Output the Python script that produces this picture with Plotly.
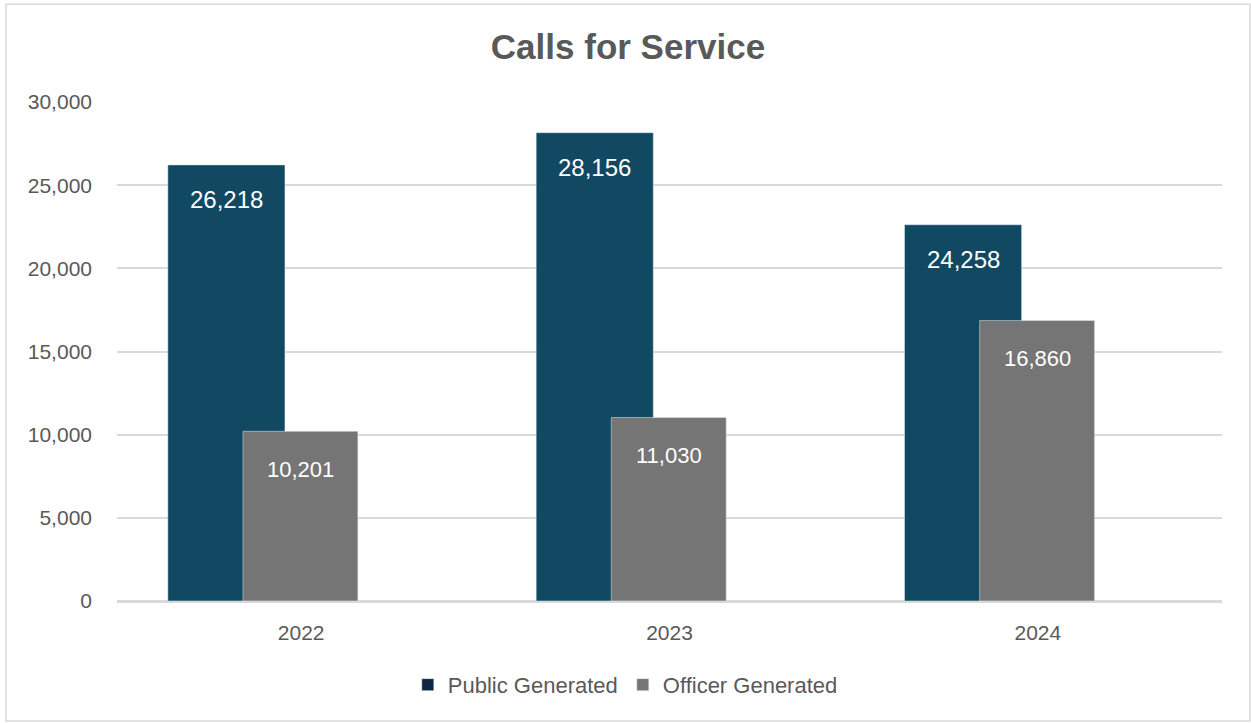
import plotly.graph_objects as go

years = ["2022", "2023", "2024"]
public_height = [26218, 28156, 22620]
officer_height = [10201, 11030, 16860]
public_labels = ["26,218", "28,156", "24,258"]
officer_labels = ["10,201", "11,030", "16,860"]

txt = "#595959"
font = "Liberation Sans"

fig = go.Figure()
fig.add_trace(go.Bar(x=years, y=public_height, name="Public Generated", marker_color="#114862",
                     offset=-0.362, width=0.318, showlegend=False))
fig.add_trace(go.Bar(x=years, y=officer_height, name="Officer Generated", marker_color="#757575",
                     offset=-0.158, width=0.312, showlegend=False))

# legend swatches (Excel shows a darker swatch for the first series)
fig.add_trace(go.Bar(x=[years[0]], y=[None], name="Public Generated", marker_color="#0e2841"))
fig.add_trace(go.Bar(x=[years[0]], y=[None], name="Officer Generated", marker_color="#757575"))

# data labels inside the top of each bar
for i in range(len(years)):
    fig.add_annotation(x=i - 0.362 + 0.318 / 2, y=public_height[i], text=public_labels[i], showarrow=False,
                       yshift=-35, font=dict(family=font, size=24, color="white"))
    fig.add_annotation(x=i - 0.158 + 0.312 / 2, y=officer_height[i], text=officer_labels[i], showarrow=False,
                       yshift=-38, font=dict(family=font, size=22, color="white"))

fig.add_shape(type="rect", xref="paper", yref="paper", x0=-0.1005, x1=1.0253, y0=-0.2405, y1=1.196,
              line=dict(color="#d9d9d9", width=1.5), layer="below")

fig.update_layout(
    width=1251, height=723,
    margin=dict(l=117, r=29, t=102, b=122),
    paper_bgcolor="white", plot_bgcolor="white",
    barmode="overlay",
    title=dict(text="<b>Calls for Service</b>", x=628 / 1251, xanchor="center", xref="container",
               y=1 - 47 / 723, yanchor="middle", yref="container",
               font=dict(family=font, size=35, color=txt)),
    font=dict(family=font, color=txt),
    legend=dict(orientation="h", x=0.46, xanchor="center", y=-0.168, yanchor="middle",
                font=dict(size=22, color=txt), itemwidth=30, traceorder="normal"),
    xaxis=dict(range=[-0.5, 2.5], showgrid=False, showline=True, linecolor="#d9d9d9", linewidth=1.5,
               ticks="", tickfont=dict(size=21, color=txt), ticklabelstandoff=12),
    yaxis=dict(range=[0, 30000], dtick=5000, tickformat=",", showgrid=True, gridcolor="#d9d9d9",
               gridwidth=1.5, zeroline=True, zerolinecolor="#d9d9d9", zerolinewidth=1.5,
               ticks="", tickfont=dict(size=21, color=txt), ticklabelstandoff=24),
)

# drop the default 8px page margin so the figure sits at the window origin
fig.write_html("out.html", config={"displayModeBar": False},
               post_script="document.body.style.margin='0';")
